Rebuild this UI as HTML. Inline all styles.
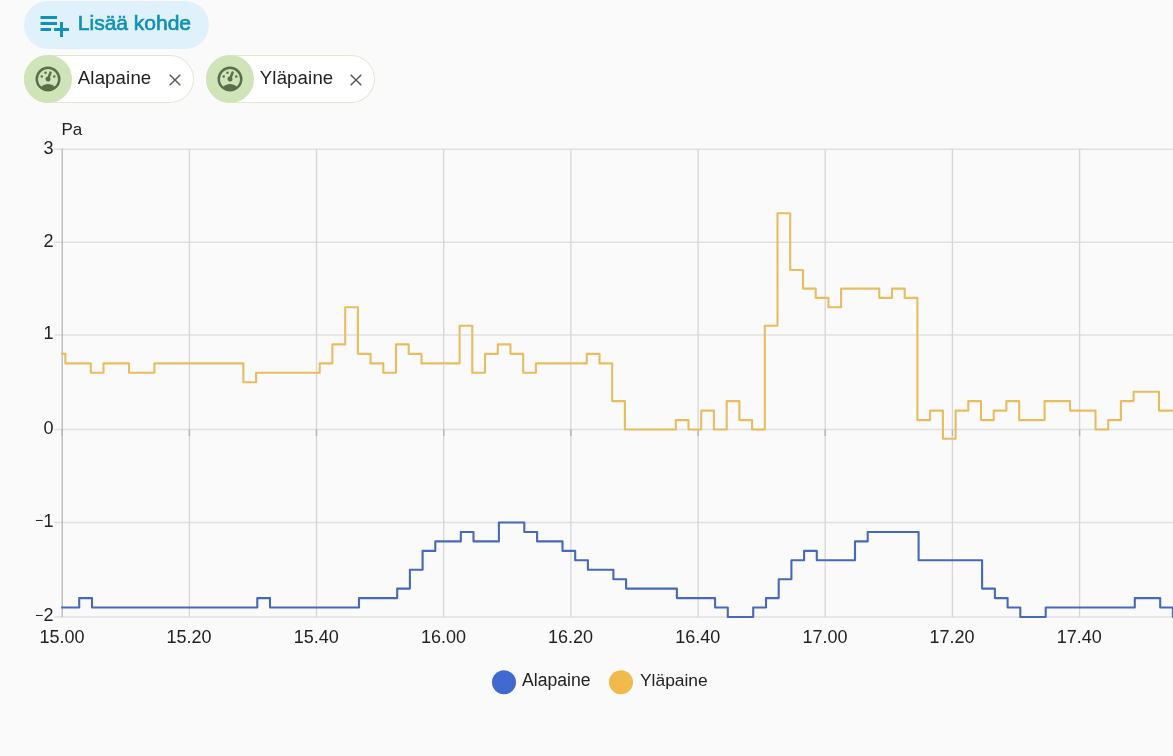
<!DOCTYPE html>
<html lang="fi"><head><meta charset="utf-8"><title>Historia</title>
<style>
html,body{margin:0;padding:0;}
body{width:1173px;height:756px;background:#fafafa;overflow:hidden;position:relative;font-family:"Liberation Sans",sans-serif;color:#212121;}
.add{position:absolute;left:24px;top:1px;width:185px;height:48px;border-radius:24px;background:#dff2fb;color:#1390b5;font-size:21px;-webkit-text-stroke:0.65px #1390b5;}
.add span{position:absolute;left:53.8px;top:10.2px;line-height:23px;white-space:nowrap;}
.add svg{position:absolute;left:11.8px;top:6px;}
.chip{position:absolute;top:55.3px;height:48px;border-radius:24px;background:#fff;border:1px solid #e2e7d3;box-sizing:border-box;font-size:18.6px;}
.chip .ic{position:absolute;left:-1px;top:-1px;width:48px;height:48px;border-radius:24px;background:#cfe4b8;}
.chip .ic svg{position:absolute;left:9px;top:8.7px;}
.chip .t{position:absolute;left:52.8px;top:10.6px;line-height:21px;white-space:nowrap;letter-spacing:0.15px;}
.chip .x{position:absolute;right:10.6px;top:16.3px;}
svg.chart{position:absolute;left:0;top:0;}
svg.chart text{font-family:"Liberation Sans",sans-serif;font-size:18px;fill:#222;}
</style></head><body>
<div class="add"><svg width="36" height="36" viewBox="0 0 24 24"><path fill="#1390b5" d="M3 16H10V14H3M18 14V10H16V14H12V16H16V20H18V16H22V14M14 6H3V8H14M14 10H3V12H14V10Z"/></svg><span>Lisää kohde</span></div>
<div class="chip" style="left:24px;width:170px;"><div class="ic"><svg width="30" height="30" viewBox="0 0 24 24"><path fill="#5a6e4a" d="M12,2A10,10 0 0,0 2,12A10,10 0 0,0 12,22A10,10 0 0,0 22,12A10,10 0 0,0 12,2M12,4A8,8 0 0,1 20,12C20,14.4 19,16.5 17.3,18C15.9,16.7 14,16 12,16C10,16 8.2,16.7 6.7,18C5,16.5 4,14.4 4,12A8,8 0 0,1 12,4M14,5.89C13.62,5.9 13.26,6.15 13.1,6.54L11.81,9.77L11.71,10C11,10.13 10.41,10.6 10.14,11.26C9.73,12.29 10.23,13.45 11.26,13.86C12.29,14.27 13.45,13.77 13.86,12.74C14.12,12.08 14,11.32 13.57,10.76L13.67,10.5L14.96,7.29L14.97,7.26C15.17,6.75 14.92,6.17 14.41,5.96C14.28,5.91 14.15,5.89 14,5.89M10,6A1,1 0 0,0 9,7A1,1 0 0,0 10,8A1,1 0 0,0 11,7A1,1 0 0,0 10,6M7,9A1,1 0 0,0 6,10A1,1 0 0,0 7,11A1,1 0 0,0 8,10A1,1 0 0,0 7,9M17,9A1,1 0 0,0 16,10A1,1 0 0,0 17,11A1,1 0 0,0 18,10A1,1 0 0,0 17,9Z"/></svg></div><span class="t">Alapaine</span><svg class="x" width="14" height="14" viewBox="0 0 14 14"><path d="M1.7 1.7L12.3 12.3M12.3 1.7L1.7 12.3" stroke="#5a5a5a" stroke-width="1.5" fill="none"/></svg></div>
<div class="chip" style="left:206px;width:169px;"><div class="ic"><svg width="30" height="30" viewBox="0 0 24 24"><path fill="#5a6e4a" d="M12,2A10,10 0 0,0 2,12A10,10 0 0,0 12,22A10,10 0 0,0 22,12A10,10 0 0,0 12,2M12,4A8,8 0 0,1 20,12C20,14.4 19,16.5 17.3,18C15.9,16.7 14,16 12,16C10,16 8.2,16.7 6.7,18C5,16.5 4,14.4 4,12A8,8 0 0,1 12,4M14,5.89C13.62,5.9 13.26,6.15 13.1,6.54L11.81,9.77L11.71,10C11,10.13 10.41,10.6 10.14,11.26C9.73,12.29 10.23,13.45 11.26,13.86C12.29,14.27 13.45,13.77 13.86,12.74C14.12,12.08 14,11.32 13.57,10.76L13.67,10.5L14.96,7.29L14.97,7.26C15.17,6.75 14.92,6.17 14.41,5.96C14.28,5.91 14.15,5.89 14,5.89M10,6A1,1 0 0,0 9,7A1,1 0 0,0 10,8A1,1 0 0,0 11,7A1,1 0 0,0 10,6M7,9A1,1 0 0,0 6,10A1,1 0 0,0 7,11A1,1 0 0,0 8,10A1,1 0 0,0 7,9M17,9A1,1 0 0,0 16,10A1,1 0 0,0 17,11A1,1 0 0,0 18,10A1,1 0 0,0 17,9Z"/></svg></div><span class="t">Yläpaine</span><svg class="x" width="14" height="14" viewBox="0 0 14 14"><path d="M1.7 1.7L12.3 12.3M12.3 1.7L1.7 12.3" stroke="#5a5a5a" stroke-width="1.5" fill="none"/></svg></div>
<svg class="chart" width="1173" height="756" viewBox="0 0 1173 756">
<line x1="54.3" x2="1173" y1="149.2" y2="149.2" stroke="#e0e0e0" stroke-width="1.6"/>
<line x1="54.3" x2="1173" y1="242.2" y2="242.2" stroke="#e0e0e0" stroke-width="1.6"/>
<line x1="54.3" x2="1173" y1="335.0" y2="335.0" stroke="#e0e0e0" stroke-width="1.6"/>
<line x1="54.3" x2="1173" y1="429.5" y2="429.5" stroke="#e0e0e0" stroke-width="1.6"/>
<line x1="54.3" x2="1173" y1="522.5" y2="522.5" stroke="#e0e0e0" stroke-width="1.6"/>
<line x1="54.3" x2="1173" y1="617.0" y2="617.0" stroke="#e0e0e0" stroke-width="1.6"/>
<line x1="189.4" x2="189.4" y1="149.2" y2="617.0" stroke="#d6d6d6" stroke-width="1.3"/>
<line x1="316.5" x2="316.5" y1="149.2" y2="617.0" stroke="#d6d6d6" stroke-width="1.3"/>
<line x1="443.7" x2="443.7" y1="149.2" y2="617.0" stroke="#d6d6d6" stroke-width="1.3"/>
<line x1="570.9" x2="570.9" y1="149.2" y2="617.0" stroke="#d6d6d6" stroke-width="1.3"/>
<line x1="698.1" x2="698.1" y1="149.2" y2="617.0" stroke="#d6d6d6" stroke-width="1.3"/>
<line x1="825.2" x2="825.2" y1="149.2" y2="617.0" stroke="#d6d6d6" stroke-width="1.3"/>
<line x1="952.4" x2="952.4" y1="149.2" y2="617.0" stroke="#d6d6d6" stroke-width="1.3"/>
<line x1="1079.6" x2="1079.6" y1="149.2" y2="617.0" stroke="#d6d6d6" stroke-width="1.3"/>
<line x1="62.2" x2="62.2" y1="148.5" y2="617.0" stroke="#b6b6b6" stroke-width="1.3"/>
<line x1="62.2" x2="62.2" y1="429.5" y2="436.0" stroke="#b4b4b4" stroke-width="1.4"/>
<line x1="189.4" x2="189.4" y1="429.5" y2="436.0" stroke="#b4b4b4" stroke-width="1.4"/>
<line x1="316.5" x2="316.5" y1="429.5" y2="436.0" stroke="#b4b4b4" stroke-width="1.4"/>
<line x1="443.7" x2="443.7" y1="429.5" y2="436.0" stroke="#b4b4b4" stroke-width="1.4"/>
<line x1="570.9" x2="570.9" y1="429.5" y2="436.0" stroke="#b4b4b4" stroke-width="1.4"/>
<line x1="698.1" x2="698.1" y1="429.5" y2="436.0" stroke="#b4b4b4" stroke-width="1.4"/>
<line x1="825.2" x2="825.2" y1="429.5" y2="436.0" stroke="#b4b4b4" stroke-width="1.4"/>
<line x1="952.4" x2="952.4" y1="429.5" y2="436.0" stroke="#b4b4b4" stroke-width="1.4"/>
<line x1="1079.6" x2="1079.6" y1="429.5" y2="436.0" stroke="#b4b4b4" stroke-width="1.4"/>

<text x="61.4" y="135.1" style="font-size:17px">Pa</text>
<text x="53.6" y="153.5" text-anchor="end">3</text>
<text x="53.6" y="246.5" text-anchor="end">2</text>
<text x="53.6" y="339.3" text-anchor="end">1</text>
<text x="53.6" y="433.8" text-anchor="end">0</text>
<text x="53.6" y="526.8" text-anchor="end"><tspan style="font-size:14px" dy="-1.8">−</tspan><tspan dy="1.8" dx="0.4">1</tspan></text>
<text x="53.6" y="621.3" text-anchor="end"><tspan style="font-size:14px" dy="-1.8">−</tspan><tspan dy="1.8" dx="0.4">2</tspan></text>
<text x="61.9" y="642.6" text-anchor="middle">15.00</text>
<text x="189.1" y="642.6" text-anchor="middle">15.20</text>
<text x="316.2" y="642.6" text-anchor="middle">15.40</text>
<text x="443.4" y="642.6" text-anchor="middle">16.00</text>
<text x="570.6" y="642.6" text-anchor="middle">16.20</text>
<text x="697.8" y="642.6" text-anchor="middle">16.40</text>
<text x="824.9" y="642.6" text-anchor="middle">17.00</text>
<text x="952.1" y="642.6" text-anchor="middle">17.20</text>
<text x="1079.3" y="642.6" text-anchor="middle">17.40</text>

<path d="M61.2 353.9 L65.4 353.9 L65.4 363.4 L90.8 363.4 L90.8 372.8 L103.5 372.8 L103.5 363.4 L129.0 363.4 L129.0 372.8 L154.4 372.8 L154.4 363.4 L243.4 363.4 L243.4 382.2 L256.1 382.2 L256.1 372.8 L319.7 372.8 L319.7 363.4 L332.4 363.4 L332.4 344.4 L345.2 344.4 L345.2 307.2 L357.9 307.2 L357.9 353.9 L370.6 353.9 L370.6 363.4 L383.3 363.4 L383.3 372.8 L396.0 372.8 L396.0 344.4 L408.7 344.4 L408.7 353.9 L421.5 353.9 L421.5 363.4 L459.6 363.4 L459.6 325.7 L472.3 325.7 L472.3 372.8 L485.0 372.8 L485.0 353.9 L497.8 353.9 L497.8 344.4 L510.5 344.4 L510.5 353.9 L523.2 353.9 L523.2 372.8 L535.9 372.8 L535.9 363.4 L586.8 363.4 L586.8 353.9 L599.5 353.9 L599.5 363.4 L612.2 363.4 L612.2 401.1 L624.9 401.1 L624.9 429.5 L675.8 429.5 L675.8 420.1 L688.5 420.1 L688.5 429.5 L701.2 429.5 L701.2 410.6 L713.9 410.6 L713.9 429.5 L726.7 429.5 L726.7 401.1 L739.4 401.1 L739.4 420.1 L752.1 420.1 L752.1 429.5 L764.8 429.5 L764.8 325.7 L777.5 325.7 L777.5 213.2 L790.2 213.2 L790.2 270.0 L803.0 270.0 L803.0 288.6 L815.7 288.6 L815.7 297.9 L828.4 297.9 L828.4 307.2 L841.1 307.2 L841.1 288.6 L879.3 288.6 L879.3 297.9 L892.0 297.9 L892.0 288.6 L904.7 288.6 L904.7 297.9 L917.4 297.9 L917.4 420.1 L930.1 420.1 L930.1 410.6 L942.9 410.6 L942.9 438.8 L955.6 438.8 L955.6 410.6 L968.3 410.6 L968.3 401.1 L981.0 401.1 L981.0 420.1 L993.7 420.1 L993.7 410.6 L1006.4 410.6 L1006.4 401.1 L1019.2 401.1 L1019.2 420.1 L1044.6 420.1 L1044.6 401.1 L1070.0 401.1 L1070.0 410.6 L1095.5 410.6 L1095.5 429.5 L1108.2 429.5 L1108.2 420.1 L1120.9 420.1 L1120.9 401.1 L1133.6 401.1 L1133.6 391.7 L1159.0 391.7 L1159.0 410.6 L1180.0 410.6" fill="none" stroke="#e7bd62" stroke-width="2.1" stroke-linejoin="round" stroke-linejoin="miter"/>
<path d="M61.2 607.5 L79.2 607.5 L79.2 598.1 L92.0 598.1 L92.0 607.5 L257.3 607.5 L257.3 598.1 L270.0 598.1 L270.0 607.5 L359.0 607.5 L359.0 598.1 L397.2 598.1 L397.2 588.6 L409.9 588.6 L409.9 569.8 L422.6 569.8 L422.6 550.9 L435.3 550.9 L435.3 541.4 L460.8 541.4 L460.8 532.0 L473.5 532.0 L473.5 541.4 L498.9 541.4 L498.9 522.5 L524.3 522.5 L524.3 532.0 L537.1 532.0 L537.1 541.4 L562.5 541.4 L562.5 550.9 L575.2 550.9 L575.2 560.3 L587.9 560.3 L587.9 569.8 L613.4 569.8 L613.4 579.2 L626.1 579.2 L626.1 588.6 L676.9 588.6 L676.9 598.1 L715.1 598.1 L715.1 607.5 L727.8 607.5 L727.8 617.0 L753.2 617.0 L753.2 607.5 L766.0 607.5 L766.0 598.1 L778.7 598.1 L778.7 579.2 L791.4 579.2 L791.4 560.3 L804.1 560.3 L804.1 550.9 L816.8 550.9 L816.8 560.3 L855.0 560.3 L855.0 541.4 L867.7 541.4 L867.7 532.0 L918.6 532.0 L918.6 560.3 L982.1 560.3 L982.1 588.6 L994.9 588.6 L994.9 598.1 L1007.6 598.1 L1007.6 607.5 L1020.3 607.5 L1020.3 617.0 L1045.7 617.0 L1045.7 607.5 L1134.8 607.5 L1134.8 598.1 L1160.2 598.1 L1160.2 607.5 L1172.9 607.5 L1172.9 617.0 L1180.0 617.0" fill="none" stroke="#4869b8" stroke-width="2.1" stroke-linejoin="round" stroke-linejoin="miter"/>
<circle cx="504" cy="682.3" r="12" fill="#4269d0"/>
<circle cx="621" cy="682.3" r="12" fill="#f2b94c"/>
<text x="522" y="686.2" style="font-size:17.6px">Alapaine</text>
<text x="640" y="686.2" style="font-size:17.4px">Yläpaine</text>
</svg>
</body></html>
